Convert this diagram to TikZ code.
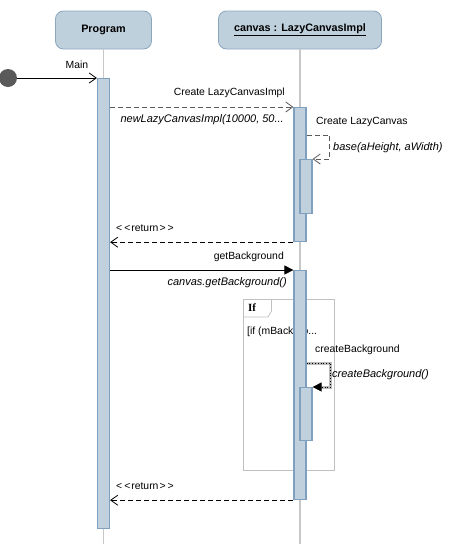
\documentclass[tikz,border=0pt]{standalone}
\usepackage{fontspec}
\setmainfont{Liberation Sans}
\newfontfamily\frameserif{Liberation Serif}
\usetikzlibrary{arrows.meta,positioning}
\definecolor{headfill}{RGB}{191,208,221}
\definecolor{headline}{RGB}{139,166,189}
\definecolor{actfill}{RGB}{192,209,221}
\definecolor{actline}{RGB}{127,160,191}
\definecolor{lifegray}{RGB}{200,200,200}
\definecolor{framegray}{RGB}{192,192,192}
\definecolor{dotgray}{RGB}{90,90,90}
\newcommand{\retlabel}{\textless\kern2pt\textless\kern1pt return\kern1pt\textgreater\kern2pt\textgreater}

\begin{document}
\begin{tikzpicture}[x=1pt,y=-1pt,
    font=\fontsize{10.4}{12}\selectfont,
    head/.style={draw=headline,fill=headfill,rounded corners=8pt,line width=0.8pt,minimum height=38pt,font=\fontsize{10.8}{12}\selectfont\bfseries},
    act/.style={draw=actline,fill=actfill,line width=1.2pt,minimum width=12pt,anchor=north,inner sep=0pt},
    life/.style={lifegray,line width=1.5pt},
    lbl/.style={inner sep=0pt},
    sig/.style={inner sep=0pt,font=\fontsize{11}{12}\selectfont\itshape},
    call/.style={-{Straight Barb[length=7pt,width=10pt]},line width=0.8pt},
    sync/.style={-{Triangle[length=9pt,width=9pt]},line width=0.8pt},
    reply/.style={call,dash pattern=on 5pt off 3pt}
  ]
    \useasboundingbox (0,0) rectangle (469,544);

    \node[head,minimum width=96pt] (prog) at (103.5,30) {Program};
    \node[head,minimum width=163pt] (canvas) at (300,30) {\underline{canvas : LazyCanvasImpl}};
    \draw[life] (prog.south) -- (prog.south |- 0,544);
    \draw[life] (canvas.south) -- (canvas.south |- 0,544);

    \node[draw=framegray,line width=0.8pt,minimum width=91pt,minimum height=171pt,anchor=north west,inner sep=0pt] (ifbox) at (243,299) {};
    \draw[framegray,line width=0.8pt] (ifbox.north west) ++(0,18) -- ++(25,0) -- ++(3.5,-6) -- ++(0,-12);
    \node[lbl,anchor=west,font=\frameserif\bfseries\fontsize{11}{12}\selectfont] (iftag) at (248,308) {If};
    \node[lbl,anchor=west] (guard) at (247,332) {[if (mBackgro...};

    \node[act,minimum height=450pt] (progact) at (prog.south |- 0,78) {};
    \node[act,minimum height=134pt] (act1) at (canvas.south |- 0,107) {};
    \node[act,minimum height=54pt] (sub1) at ([xshift=6pt]act1.north |- 0,159) {};
    \node[act,minimum height=229pt] (act2) at (canvas.south |- 0,270) {};
    \node[act,minimum height=53pt] (sub2) at ([xshift=6pt]act2.north |- 0,387) {};

    \node[circle,fill=dotgray,minimum size=18pt,inner sep=0pt] (init) at (8,78) {};
    \draw[call] (init) -- (progact.north west);
    \node[lbl] (mainlbl) at (77,65) {Main};

    \draw[reply,draw=dotgray] (progact.east |- act1.north) -- (act1.north west);
    \node[lbl,anchor=east] (createlbl) at (285,93) {Create LazyCanvasImpl};
    \node[sig,anchor=east] (createsig) at (284,120) {newLazyCanvasImpl(10000, 50...};

    \draw[reply,draw=dotgray] (act1.east |- 0,135) -- ++(23,0) |- (sub1.north east);
    \node[lbl,anchor=west] (baselbl) at (316,122) {Create LazyCanvas};
    \node[sig,anchor=west] (basesig) at (333,148) {base(aHeight, aWidth)};

    \draw[reply] (act1.south west) -- (progact.east |- act1.south);
    \node[lbl,anchor=west] (ret1) at (116,228) {\retlabel};

    \draw[sync] (progact.east |- act2.north) -- (act2.north west);
    \node[lbl,anchor=east] (getlbl) at (284,257) {getBackground};
    \node[sig,anchor=east] (getsig) at (287,283) {canvas.getBackground()};

    \draw[gray!55,line width=3pt] (act2.east |- 0,363) -- ++(24,0) |- ([xshift=4pt]sub2.north east);
    \draw[sync,dotted] (act2.east |- 0,363) -- ++(24,0) |- (sub2.north east);
    \node[lbl,anchor=west] (cblbl) at (315,350) {createBackground};
    \node[sig,anchor=west] (cbsig) at (332,375) {createBackground()};

    \draw[reply] (act2.south west) -- (progact.east |- act2.south);
    \node[lbl,anchor=west] (ret2) at (116,486) {\retlabel};
  \end{tikzpicture}
\end{document}
